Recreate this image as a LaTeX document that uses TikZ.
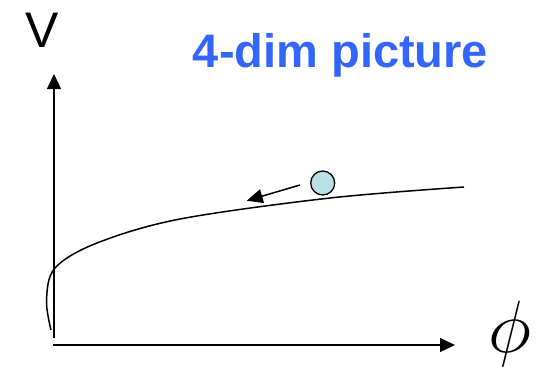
\documentclass[tikz,border=0pt]{standalone}
\usepackage{fix-cm}
\usepackage{fontspec}
\setmainfont{Liberation Sans}
\usetikzlibrary{arrows.meta}
\definecolor{titleblue}{RGB}{51,102,255}
\definecolor{ballfill}{RGB}{185,224,228}
\tikzset{
  axis/.style={line width=1.3pt,-{Triangle[width=14pt,length=15pt]}},
  curveline/.style={line width=1.5pt},
  movearrow/.style={line width=1.5pt,-{Triangle[width=14pt,length=16pt]}},
  ballstyle/.style={circle,draw,line width=1.3pt,fill=ballfill,minimum size=24pt,inner sep=0pt}
}
\begin{document}
\begin{tikzpicture}[x=1pt,y=-1pt]
\useasboundingbox (0,0) rectangle (540,368);
\coordinate (vbot) at (54,338);
\coordinate (vtop) at (54,74);
\coordinate (hleft) at (53,345);
\coordinate (hright) at (455,345);
\draw[axis] (vbot) -- (vtop);
\draw[axis] (hleft) -- (hright);
\node[anchor=base,font=\fontsize{50}{56}\selectfont,inner sep=0pt] (vlabel) at (42,47) {V};
\node[anchor=base,font=\fontsize{47}{52}\selectfont\bfseries,text=titleblue,inner sep=0pt] (title) at (340.5,67) {4-dim picture};
\node[inner sep=0pt,font=\fontsize{74}{80}\selectfont] (philabel) at (510,333.5) {$\phi$};
\draw[curveline] plot[smooth,tension=0.55] coordinates {(51,330) (46.5,300) (55,268) (97,243) (180,219) (330,198) (464,187)};
\node[ballstyle] (ball) at (322.7,183) {};
\coordinate (arrstart) at (300,185);
\coordinate (arrend) at (246.7,200.7);
\draw[movearrow] (arrstart) -- (arrend);
\end{tikzpicture}
\end{document}
